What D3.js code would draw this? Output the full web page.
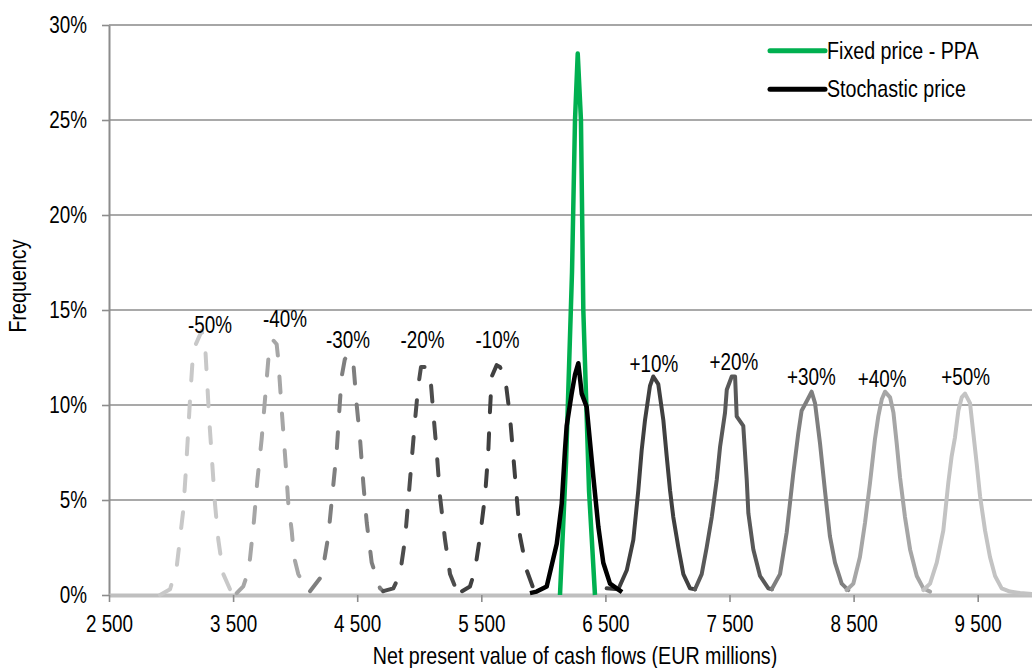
<!DOCTYPE html>
<html>
<head>
<meta charset="utf-8">
<script src="https://cdn.jsdelivr.net/npm/d3@7"></script>
<style>
  html, body { margin: 0; padding: 0; background: #fff; }
  svg { display: block; }
  text { font-family: "Liberation Sans", Arial, sans-serif; fill: #000; }
</style>
</head>
<body>
<svg id="chart" width="1032" height="668"></svg>
<script>
// ---------------- DATA ----------------
const xTicks = [2500, 3500, 4500, 5500, 6500, 7500, 8500, 9500];
const yTicks = [0, 5, 10, 15, 20, 25, 30];

const scenarioNames = ["-50%", "-40%", "-30%", "-20%", "-10%", "+10%", "+20%", "+30%", "+40%", "+50%"];

// [NPV (EUR millions), frequency (%)]
const npvMinus50 = [[2911,0],[2992,0.3],[3046,1.5],[3099,4.5],[3120,6.6],[3139,8.7],[3153,10.3],[3174,12.4],[3193,13.1],[3247,13.9],[3274,13.2],[3292,11.1],[3308,9.2],[3328,7.3],[3354,4.8],[3381,2.9],[3421,1.1],[3475,0.3],[3515,0.1]];
const npvMinus40 = [[3529,0.1],[3582,0.45],[3610,1.0],[3636,1.9],[3668,3.9],[3695,6.0],[3730,8.2],[3757,10.3],[3784,12.4],[3797,13.2],[3824,13.4],[3851,13.2],[3864,12.4],[3892,9.7],[3926,6.7],[3945,4.8],[3972,3.4],[3991,2.0],[4025,1.1],[4066,0.6],[4120,0.2]];
const npvMinus30 = [[4120,0.2],[4214,1.0],[4267,3.1],[4303,5.5],[4335,7.6],[4356,9.7],[4375,11.5],[4400,12.4],[4428,12.7],[4469,12.2],[4496,10.0],[4523,8.2],[4549,5.9],[4577,3.8],[4617,1.7],[4684,0.35],[4710,0.2]];
const npvMinus20 = [[4710,0.2],[4791,0.35],[4845,1.1],[4885,2.9],[4912,5.0],[4939,7.1],[4966,9.2],[4992,11.0],[5014,12.0],[5046,12.0],[5087,11.7],[5113,9.6],[5141,7.5],[5167,5.2],[5208,2.9],[5248,1.1],[5288,0.45],[5345,0.2]];
const npvMinus10 = [[5345,0.2],[5409,0.45],[5449,1.3],[5490,3.1],[5530,5.2],[5556,7.5],[5570,9.7],[5584,11.5],[5624,12.1],[5650,12.0],[5691,11.5],[5731,9.4],[5758,7.3],[5785,5.2],[5812,3.1],[5866,1.3],[5919,0.35],[5949,0.15]];
const npvPlus10 = [[6510,0.35],[6604,0.3],[6672,1.3],[6725,2.9],[6765,5.5],[6792,7.6],[6819,9.2],[6859,11.0],[6886,11.5],[6926,11.1],[6967,9.2],[6994,7.3],[7021,5.5],[7047,4.1],[7088,2.5],[7128,1.1],[7182,0.35],[7222,0.3]];
const npvPlus20 = [[7222,0.3],[7276,1.1],[7316,2.5],[7357,4.1],[7397,6.05],[7424,7.8],[7464,9.6],[7478,10.8],[7518,11.5],[7545,11.5],[7558,9.4],[7611,8.9],[7639,6.05],[7652,4.3],[7692,2.4],[7746,1.0],[7813,0.35],[7842,0.3]];
const npvPlus30 = [[7840,0.3],[7907,1.1],[7961,3.3],[8014,6.4],[8054,8.5],[8081,9.7],[8122,10.2],[8162,10.7],[8189,10.1],[8229,8.0],[8269,5.5],[8309,3.1],[8350,1.7],[8404,0.6],[8457,0.26]];
const npvPlus40 = [[8444,0.26],[8498,0.6],[8551,2.0],[8592,3.8],[8632,5.9],[8672,8.2],[8699,9.4],[8727,10.3],[8753,10.7],[8794,10.4],[8821,9.6],[8847,8.0],[8874,6.2],[8914,4.1],[8955,2.4],[9009,1.0],[9062,0.35],[9116,0.18]];
const npvPlus50 = [[9062,0.26],[9116,0.6],[9170,1.7],[9223,3.4],[9263,5.9],[9290,7.3],[9317,8.3],[9344,9.7],[9371,10.4],[9398,10.6],[9438,10.1],[9465,8.5],[9492,6.9],[9519,5.2],[9559,3.4],[9599,2.0],[9640,1.0],[9693,0.35],[9760,0.18],[9841,0.1],[9937,0.05]];

const npvStochastic = [[5892,0.1],[5946,0.18],[6027,0.45],[6108,2.7],[6148,4.8],[6174,7.6],[6188,8.9],[6228,10.6],[6255,11.6],[6282,12.2],[6309,10.6],[6349,9.9],[6403,6.2],[6443,3.6],[6483,1.7],[6537,0.6],[6591,0.35],[6634,0.15]];
const npvFixedPPA = [[6134,0],[6183,7],[6231,17],[6255,25],[6277,28.5],[6303,25],[6322,15],[6368,5.5],[6416,0]];

// label anchors in data units [NPV, frequency %]
const scenarioLabelAt = [[3314,13.8],[3918,14.1],[4426,13.0],[5026,13.0],[5630,13.0],[6890,11.75],[7536,11.85],[8159,11.05],[8729,10.95],[9403,11.05]];

const legendNames = ["Fixed price - PPA", "Stochastic price"];

// ---------------- STYLES ----------------
const scenarioSeries = [npvMinus50, npvMinus40, npvMinus30, npvMinus20, npvMinus10, npvPlus10, npvPlus20, npvPlus30, npvPlus40, npvPlus50];
const scenarioColors = ["#c8c8c8", "#a6a6a6", "#7f7f7f", "#4d4d4d", "#404040", "#404040", "#595959", "#7f7f7f", "#a6a6a6", "#c3c3c3"];
const scenarioDashed = [true, true, true, true, true, false, false, false, false, false];
const greenColor = "#00b050";

// ---------------- CHART ----------------
(function draw() {
const svg = d3.select("#chart");
const pLeft = 109, pRight = 1032, pTop = 25, pBottom = 595;
const NARROW = 0.82; // emulate a narrow sans face

const x = d3.scaleLinear().domain([2500, 9937.5]).range([pLeft, pRight]);
const y = d3.scaleLinear().domain([0, 30]).range([pBottom, pTop]);

const fmt = d3.formatLocale({ decimal: ".", thousands: " ", grouping: [3], currency: ["", ""] }).format(",");

function narrowText(parent, tx, ty, str, anchor, size, rotate) {
  return parent.append("text")
    .attr("transform", `translate(${tx},${ty})` + (rotate ? ` rotate(${rotate})` : "") + ` scale(${NARROW},1)`)
    .attr("text-anchor", anchor)
    .attr("font-size", size)
    .text(str);
}

// gridlines
svg.append("g").selectAll("line")
  .data(yTicks.filter(d => d > 0))
  .join("line")
  .attr("x1", pLeft).attr("x2", pRight)
  .attr("y1", d => y(d)).attr("y2", d => y(d))
  .attr("stroke", d => d === 30 ? "#a6a6a6" : "#8c8c8c")
  .attr("stroke-width", d => d === 30 ? 2 : 1.6);

// y axis
const yAxis = svg.append("g").attr("transform", `translate(${pLeft},0)`)
  .call(d3.axisLeft(y).tickValues(yTicks).tickSize(7).tickSizeOuter(0).tickPadding(15).tickFormat(d => d + "%"));
yAxis.select(".domain").attr("stroke", "#8c8c8c").attr("stroke-width", 2);
yAxis.selectAll(".tick line").attr("stroke", "#8c8c8c").attr("stroke-width", 1.6);
yAxis.selectAll(".tick text")
  .attr("font-size", 23).attr("dy", "0.34em")
  .attr("x", -22 / NARROW)
  .attr("transform", `scale(${NARROW},1)`)
  .style("font-family", "'Liberation Sans',Arial,sans-serif").attr("fill", "#000");

// x axis
const xAxis = svg.append("g").attr("transform", `translate(0,${pBottom})`)
  .call(d3.axisBottom(x).tickValues(xTicks).tickSize(7).tickSizeOuter(0).tickPadding(14).tickFormat(d => fmt(d)));
xAxis.select(".domain").attr("stroke", "#bfbfbf").attr("stroke-width", 4);
xAxis.selectAll(".tick line").attr("stroke", "#8c8c8c").attr("stroke-width", 1.6);
xAxis.selectAll(".tick text")
  .attr("font-size", 23)
  .attr("transform", `scale(${NARROW},1)`)
  .style("font-family", "'Liberation Sans',Arial,sans-serif").attr("fill", "#000");

// axis titles
narrowText(svg, 575, 664, "Net present value of cash flows (EUR millions)", "middle", 24);
narrowText(svg, 26, 286, "Frequency", "middle", 24, -90);

// curves
const line = d3.line().x(d => x(d[0])).y(d => y(d[1]));
const curves = svg.append("g").attr("fill", "none").attr("stroke-linejoin", "round");

scenarioSeries.forEach((s, i) => {
  curves.append("path")
    .attr("d", line(s))
    .attr("stroke", scenarioColors[i])
    .attr("stroke-width", 4)
    .attr("stroke-linecap", "round")
    .attr("stroke-dasharray", scenarioDashed[i] ? "16,21" : null);
});

curves.append("path").attr("d", line(npvFixedPPA))
  .attr("stroke", greenColor).attr("stroke-width", 4.5);
curves.append("path").attr("d", line(npvStochastic))
  .attr("stroke", "#000").attr("stroke-width", 4.5);

// scenario labels
const labels = svg.append("g");
scenarioNames.forEach((name, i) => {
  narrowText(labels, x(scenarioLabelAt[i][0]), y(scenarioLabelAt[i][1]), name, "middle", 23);
});

// legend
const legendColors = [greenColor, "#000"];
const lg = svg.append("g");
legendNames.forEach((name, i) => {
  const ly = 50.7 + i * 38.6;
  lg.append("line").attr("x1", 770).attr("x2", 825).attr("y1", ly).attr("y2", ly)
    .attr("stroke", legendColors[i]).attr("stroke-width", 5).attr("stroke-linecap", "round");
  narrowText(lg, 827, ly + 7.8, name, "start", 24);
});
})();
</script>
</body>
</html>
